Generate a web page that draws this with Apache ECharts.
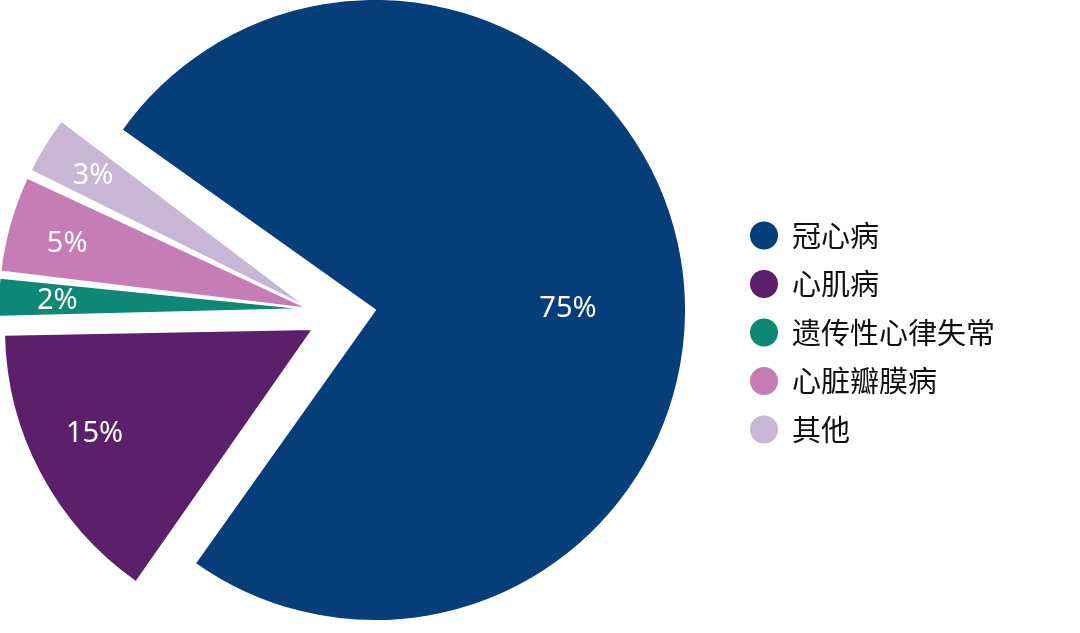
<!DOCTYPE html>
<html><head><meta charset="utf-8">
<script src="https://cdn.jsdelivr.net/npm/echarts@6/dist/echarts.min.js"></script>
<style>html,body{margin:0;padding:0;background:#fff}#c{width:1080px;height:633px}</style>
</head><body><div id="c"></div>
<script>
// ---- data ----
const categories = ['冠心病', '心肌病', '遗传性心律失常', '心脏瓣膜病', '其他'];
const values = [75, 15, 2, 5, 3];

// ---- styling / layout (exploded pie: each slice drawn by its own pie series) ----
const colors = ['#063e7a', '#5c1f6a', '#0e8777', '#c67db6', '#c8b6d4'];
const sliceCenters = [[375, 310], [313, 329], [310, 309], [310, 309], [310, 309]];
const sliceRadius = [311, 309, 312, 312, 312];
const sliceStart = [144.6, 145.05, 145.45, 144.3, 142.85];
const labelPolar = [[193, 1], [241, 205], [253, 177.5], [252, 164.5], [256, 148]]; // [radius px, angle deg]
const labelDy = 2.5;

const chart = echarts.init(document.getElementById('c'));

const series = categories.map((cat, k) => {
  const center = sliceCenters[k];
  return {
    type: 'pie',
    name: cat,
    center: center,
    radius: [0, sliceRadius[k]],
    startAngle: sliceStart[k],
    clockwise: true,
    avoidLabelOverlap: false,
    emphasis: { scale: false },
    itemStyle: { borderColor: '#ffffff', borderWidth: 2 },
    label: {
      show: true,
      position: 'inside',
      formatter: '{c}%',
      color: '#ffffff',
      fontSize: 29,
      fontFamily: 'Noto Sans',
      fontWeight: 'normal'
    },
    labelLine: { show: false },
    labelLayout: function (p) {
      const pol = labelPolar[p.dataIndex];
      const a = pol[1] * Math.PI / 180;
      const tx = center[0] + pol[0] * Math.cos(a);
      const ty = center[1] - pol[0] * Math.sin(a) + labelDy;
      const r = p.labelRect;
      return { dx: tx - (r.x + r.width / 2), dy: ty - (r.y + r.height / 2) };
    },
    data: categories.map((name, i) => i === k
      ? { name: name, value: values[i], itemStyle: { color: colors[i] } }
      : { name: '', value: values[i], itemStyle: { color: 'rgba(0,0,0,0)', borderWidth: 0 }, label: { show: false }, tooltip: { show: false } })
  };
});

chart.setOption({
  backgroundColor: '#ffffff',
  animation: false,
  legend: {
    orient: 'vertical',
    left: 750,
    top: 221,
    padding: 0,
    icon: 'circle',
    itemWidth: 28,
    itemHeight: 28,
    itemGap: 19.5,
    itemStyle: { borderWidth: 0 },
    textStyle: {
      fontSize: 29,
      lineHeight: 28,
      color: '#111111',
      fontFamily: 'Noto Sans CJK SC',
      padding: [0, 0, 0, 9]
    },
    data: categories.map((n, i) => ({ name: n, itemStyle: { color: colors[i] } }))
  },
  series: series
});
</script>
</body></html>
